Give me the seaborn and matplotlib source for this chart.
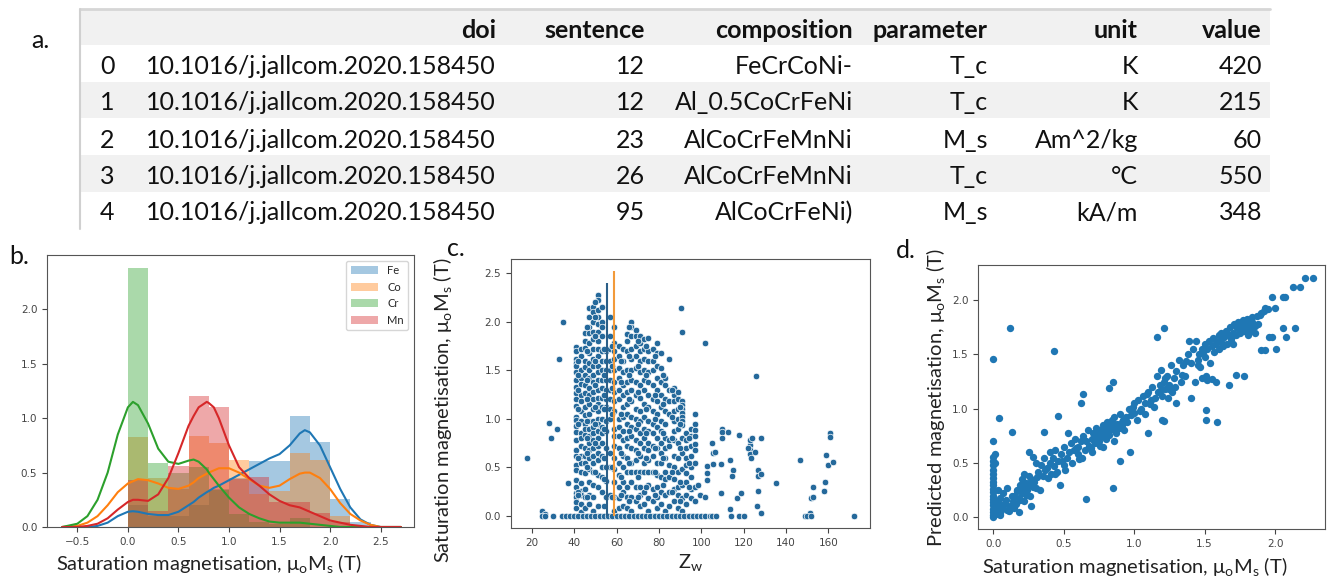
import numpy as np
import seaborn as sns
import matplotlib.pyplot as plt
from matplotlib.patches import Rectangle

# ---------------- panel a: extracted-data table ----------------
table_cols = ["doi", "sentence", "composition", "parameter", "unit", "value"]
table_index = ["0", "1", "2", "3", "4"]
doi = ["10.1016/j.jallcom.2020.158450"] * 5
sentence = ["12", "12", "23", "26", "95"]
composition = ["FeCrCoNi-", "Al_0.5CoCrFeNi", "AlCoCrFeMnNi", "AlCoCrFeMnNi", "AlCoCrFeNi)"]
parameter = ["T_c", "T_c", "M_s", "T_c", "M_s"]
unit = ["K", "K", "Am^2/kg", "°C", "kA/m"]
value = ["420", "215", "60", "550", "348"]

# ---------------- panel b: histogram + kde per element ----------------
elements = ["Fe", "Co", "Cr", "Mn"]
bin_edges = [0.0, 0.2, 0.4, 0.6, 0.8, 1.0, 1.2, 1.4, 1.6, 1.8, 2.0, 2.2, 2.4]
hist_fe = [0.20, 0.10, 0.10, 0.20, 0.35, 0.45, 0.61, 0.61, 1.02, 0.78, 0.26, 0.05]
hist_co = [0.83, 0.45, 0.35, 0.84, 0.77, 0.62, 0.30, 0.33, 0.68, 0.62, 0.10, 0.0]
hist_cr = [2.38, 0.59, 0.50, 0.55, 0.34, 0.12, 0.05, 0.03, 0.08, 0.0, 0.0, 0.0]
hist_mn = [0.43, 0.15, 0.56, 1.20, 1.10, 0.44, 0.46, 0.23, 0.23, 0.13, 0.05, 0.0]

kde_x = [-0.65, -0.5, -0.4, -0.3, -0.2, -0.1, 0.0, 0.05, 0.1, 0.2, 0.3, 0.4, 0.5, 0.6,
         0.65, 0.7, 0.78, 0.8, 0.85, 0.9, 1.0, 1.1, 1.2, 1.3, 1.4, 1.5, 1.6, 1.7, 1.75,
         1.8, 1.9, 2.0, 2.1, 2.2, 2.3, 2.4, 2.5, 2.6, 2.7]
kde_fe = [0.0, 0.0, 0.0, 0.01, 0.04, 0.10, 0.14, 0.145, 0.14, 0.12, 0.11, 0.11, 0.14, 0.20,
          0.23, 0.27, 0.32, 0.33, 0.36, 0.38, 0.43, 0.48, 0.53, 0.58, 0.63, 0.67, 0.75, 0.86, 0.89,
          0.87, 0.75, 0.55, 0.35, 0.18, 0.07, 0.02, 0.0, 0.0, 0.0]
kde_co = [0.0, 0.01, 0.04, 0.10, 0.20, 0.32, 0.40, 0.42, 0.44, 0.43, 0.40, 0.36, 0.35, 0.38,
          0.41, 0.45, 0.49, 0.50, 0.52, 0.54, 0.54, 0.50, 0.44, 0.38, 0.36, 0.38, 0.44, 0.49, 0.50,
          0.50, 0.45, 0.35, 0.22, 0.12, 0.06, 0.02, 0.0, 0.0, 0.0]
kde_cr = [0.0, 0.03, 0.10, 0.25, 0.50, 0.85, 1.10, 1.15, 1.12, 0.95, 0.72, 0.60, 0.58, 0.61,
          0.62, 0.60, 0.53, 0.50, 0.44, 0.38, 0.27, 0.18, 0.12, 0.08, 0.05, 0.04, 0.04, 0.04, 0.035,
          0.03, 0.02, 0.01, 0.0, 0.0, 0.0, 0.0, 0.0, 0.0, 0.0]
kde_mn = [0.0, 0.0, 0.01, 0.03, 0.08, 0.16, 0.23, 0.25, 0.25, 0.24, 0.30, 0.45, 0.68, 0.93,
          1.02, 1.10, 1.15, 1.14, 1.10, 1.00, 0.75, 0.55, 0.45, 0.38, 0.30, 0.24, 0.20, 0.18, 0.16,
          0.14, 0.10, 0.06, 0.04, 0.02, 0.01, 0.0, 0.0, 0.0, 0.0]

# ---------------- panel c: Ms vs Z_w ----------------
zw_columns = [41, 43, 45, 47, 49, 51, 53, 55, 57, 59, 61, 63, 65, 67, 69, 71, 73, 75,
              77, 79, 81, 83, 85, 87, 89, 91, 93, 95, 97,
              42, 46, 50, 54, 58, 62, 66, 70, 74, 78, 82, 86, 90, 94]
ms_columns = [
    [1.74, 1.70, 1.62, 1.58, 1.55, 1.48, 1.40, 1.33, 1.27, 1.20, 1.13, 1.02, 0.99, 0.93, 0.86, 0.78,
     0.68, 0.62, 0.52, 0.47, 0.37, 0.30, 0.24, 0.20, 0.14, 0.08, 0.0],
    [1.72, 1.65, 1.50, 1.42, 1.36, 1.25, 1.18, 1.08, 0.98, 0.85, 0.80, 0.72, 0.62, 0.55, 0.45, 0.34,
     0.26, 0.22, 0.12, 0.04, 0.0],
    [1.88, 1.80, 1.73, 1.60, 1.53, 1.45, 1.35, 1.27, 1.12, 1.04, 0.95, 0.90, 0.83, 0.70, 0.62, 0.55,
     0.44, 0.28, 0.20, 0.08, 0.0],
    [2.14, 2.05, 1.95, 1.88, 1.78, 1.68, 1.58, 1.50, 1.42, 1.32, 1.25, 1.15, 1.05, 0.98, 0.90, 0.82,
     0.75, 0.68, 0.60, 0.48, 0.35, 0.22, 0.12, 0.0],
    [2.15, 2.10, 2.00, 1.90, 1.82, 1.72, 1.62, 1.55, 1.45, 1.38, 1.28, 1.20, 1.10, 0.98, 0.92, 0.85,
     0.78, 0.70, 0.62, 0.55, 0.45, 0.32, 0.20, 0.05, 0.0],
    [2.28, 2.22, 2.12, 2.05, 1.98, 1.90, 1.80, 1.72, 1.65, 1.55, 1.48, 1.40, 1.30, 1.22, 1.15, 1.08,
     1.00, 0.95, 0.88, 0.80, 0.72, 0.65, 0.58, 0.42, 0.30, 0.10, 0.0],
    [2.15, 2.00, 1.95, 1.85, 1.70, 1.60, 1.50, 1.40, 1.32, 1.22, 1.12, 1.00, 0.92, 0.85, 0.75, 0.62,
     0.50, 0.40, 0.25, 0.0],
    [1.70, 1.60, 1.50, 1.40, 1.30, 1.20, 1.12, 0.98, 0.88, 0.70, 0.50, 0.36, 0.20, 0.0],
    [2.05, 1.85, 1.72, 1.60, 1.50, 1.40, 1.30, 1.20, 1.10, 1.00, 0.65, 0.50, 0.22, 0.0],
    [1.95, 1.78, 1.70, 1.62, 1.50, 1.38, 1.28, 1.18, 1.08, 0.90, 0.82, 0.72, 0.60, 0.48, 0.35, 0.20,
     0.05, 0.0],
    [1.75, 1.65, 1.52, 1.42, 1.30, 1.20, 1.00, 0.92, 0.82, 0.70, 0.55, 0.42, 0.30, 0.18, 0.08, 0.0],
    [1.72, 1.60, 1.48, 1.35, 1.25, 1.12, 1.02, 0.88, 0.78, 0.62, 0.50, 0.35, 0.25, 0.10, 0.0],
    [1.87, 1.80, 1.70, 1.50, 1.38, 1.28, 1.15, 1.05, 0.95, 0.80, 0.72, 0.60, 0.45, 0.30, 0.20, 0.08,
     0.0],
    [2.00, 1.95, 1.85, 1.72, 1.62, 1.50, 1.40, 1.30, 1.18, 1.02, 0.92, 0.82, 0.70, 0.55, 0.45, 0.35,
     0.20, 0.05, 0.0],
    [1.92, 1.85, 1.75, 1.65, 1.52, 1.38, 1.25, 1.10, 1.00, 0.90, 0.78, 0.68, 0.58, 0.45, 0.30, 0.15,
     0.0],
    [1.85, 1.78, 1.70, 1.60, 1.48, 1.35, 1.22, 1.08, 0.98, 0.85, 0.75, 0.62, 0.45, 0.30, 0.22, 0.10,
     0.0],
    [1.82, 1.72, 1.62, 1.50, 1.40, 1.30, 1.15, 1.02, 0.90, 0.80, 0.70, 0.55, 0.45, 0.25, 0.12, 0.0],
    [1.83, 1.70, 1.60, 1.48, 1.38, 1.25, 1.12, 0.98, 0.88, 0.75, 0.68, 0.58, 0.45, 0.32, 0.18, 0.05,
     0.0],
    [1.72, 1.60, 1.50, 1.35, 1.20, 1.08, 0.95, 0.85, 0.72, 0.62, 0.45, 0.28, 0.15, 0.0],
    [1.78, 1.68, 1.55, 1.42, 1.30, 1.18, 1.05, 0.92, 0.80, 0.70, 0.55, 0.42, 0.30, 0.20, 0.08, 0.0],
    [1.68, 1.52, 1.38, 1.25, 1.12, 0.98, 0.88, 0.75, 0.65, 0.55, 0.40, 0.25, 0.12, 0.0],
    [1.42, 1.35, 1.20, 1.08, 0.95, 0.80, 0.70, 0.60, 0.45, 0.38, 0.22, 0.05, 0.0],
    [1.62, 1.30, 1.18, 1.05, 0.78, 0.72, 0.52, 0.40, 0.25, 0.10, 0.0],
    [1.32, 1.25, 1.18, 1.08, 0.98, 0.88, 0.78, 0.62, 0.50, 0.38, 0.28, 0.15, 0.0],
    [1.28, 1.20, 1.10, 1.00, 0.90, 0.75, 0.60, 0.45, 0.30, 0.22, 0.08, 0.0],
    [1.18, 1.14, 1.10, 1.06, 1.02, 0.98, 0.94, 0.80, 0.65, 0.48, 0.32, 0.18, 0.05, 0.0],
    [0.85, 0.78, 0.70, 0.60, 0.52, 0.44, 0.35, 0.22, 0.12, 0.0],
    [0.90, 0.82, 0.72, 0.62, 0.50, 0.40, 0.28, 0.18, 0.0],
    [1.05, 0.95, 0.89, 0.82, 0.74, 0.68, 0.55, 0.30, 0.15, 0.0],
    [1.60, 1.45, 1.30, 1.10, 0.95, 0.60, 0.25, 0.22],
    [1.95, 1.70, 1.40, 1.20, 0.98, 0.80, 0.65, 0.50, 0.20],
    [2.20, 2.05, 1.85, 1.60, 1.35, 1.12, 0.95, 0.75, 0.45],
    [1.72, 1.45, 1.25, 1.10, 0.90, 0.60, 0.38, 0.10],
    [1.75, 1.55, 1.32, 1.05, 0.50, 0.20],
    [1.60, 1.38, 1.05, 0.65, 0.40, 0.22],
    [1.95, 1.65, 1.45, 1.20, 0.88, 0.55, 0.15],
    [1.80, 1.55, 1.28, 0.95, 0.65, 0.40, 0.20],
    [1.75, 1.45, 1.10, 0.85, 0.60, 0.30],
    [1.65, 1.25, 1.00, 0.70, 0.45, 0.22],
    [1.45, 1.15, 0.85, 0.60, 0.32],
    [1.30, 1.02, 0.80, 0.45, 0.25],
    [1.12, 0.95, 0.70, 0.35, 0.15],
    [0.80, 0.55, 0.30],
]
zw_extra = [17.6, 28, 29, 32, 33, 34.5, 37, 25, 26, 90.3, 90.8, 102, 125.8,
            109.7, 109.7, 109.7, 112.8, 117.9, 113.8, 115, 114.6, 109.2, 109.5, 113.6, 117, 119,
            123, 123, 123, 123, 123.5, 124, 122, 125.6, 128.3, 126.9, 126.9, 128.3, 126.9, 126.3,
            128.2, 135.1, 146.7, 151.2, 152, 152.8, 153, 158.1, 158.6, 159.1, 159.8, 162, 161, 161,
            102.6, 102.6, 102.9, 99.4, 98.6, 101.8, 105.3, 105.5, 105.5, 106.5]
ms_extra = [0.60, 0.96, 0.80, 0.90, 1.62, 2.00, 0.34, 0.05, 0.02, 2.14, 1.89, 1.78, 1.44,
            0.90, 0.86, 0.80, 0.87, 0.83, 0.58, 0.47, 0.41, 0.54, 0.24, 0.075, 0.19, 0.24,
            0.73, 0.78, 0.68, 0.64, 0.60, 0.80, 0.70, 0.66, 0.80, 0.47, 0.41, 0.43, 0.26, 0.10,
            0.03, 0.34, 0.58, 0.03, 0.18, 0.20, 0.30, 0.26, 0.35, 0.63, 0.52, 0.56, 0.85, 0.81,
            0.51, 0.44, 0.37, 0.22, 0.32, 0.20, 0.75, 0.65, 0.54, 0.66]
zw_zero = [25, 26, 30, 34, 36, 38, 40, 42, 44, 46, 48, 50, 52, 54, 56, 58, 60, 62, 64, 66, 68,
           70, 72, 74, 76, 78, 80, 82, 84, 86, 88, 90, 92, 94, 96, 98, 100, 102, 104, 105, 107,
           114, 118, 120, 149, 150, 152, 172]
vline_zw = [55.5, 58.7]
vline_top = [2.40, 2.52]

# ---------------- panel d: predicted vs measured Ms ----------------
ms_true = [0, 0, 0, 0, 0, 0, 0, 0, 0, 0, 0, 0, 0, 0, 0, 0, 0, 0, 0.01, 0.01, 0.01, 0.02, 0.02,
           0.03, 0.03, 0.04, 0.05, 0.05, 0.06, 0.07, 0.08, 0.10, 0.095,
           0.12, 0.14, 0.15, 0.16, 0.17, 0.18, 0.19, 0.20, 0.20, 0.21, 0.22, 0.22, 0.23, 0.24,
           0.25, 0.25, 0.26, 0.27, 0.28, 0.29, 0.30, 0.33, 0.27, 0.18, 0.25, 0.28, 0.30,
           0.32, 0.34, 0.35, 0.36, 0.38, 0.40, 0.40, 0.41, 0.42, 0.43, 0.44, 0.45, 0.46, 0.47,
           0.48, 0.50, 0.50, 0.52, 0.53, 0.54, 0.55, 0.56, 0.57, 0.58, 0.60, 0.60, 0.62, 0.63,
           0.64, 0.65, 0.66, 0.67, 0.68, 0.70, 0.70, 0.71, 0.72, 0.73, 0.74, 0.75, 0.76, 0.77,
           0.78, 0.78, 0.79, 0.80, 0.80, 0.81, 0.82, 0.83, 0.84, 0.85, 0.86, 0.86, 0.87, 0.88,
           0.89, 0.90, 0.90, 0.91, 0.92, 0.93, 0.94, 0.95, 0.96, 0.97, 0.98, 1.00, 1.00, 1.02,
           1.03, 1.05, 1.06, 1.08, 1.08, 1.10, 1.10, 1.12, 1.13, 1.14, 1.15, 1.16, 1.17, 1.18,
           1.19, 1.20, 1.21, 1.22, 1.23, 1.24, 1.25, 1.26, 1.27, 1.28, 1.29, 1.30, 1.30, 1.32,
           1.33, 1.35, 1.36, 1.38, 1.39, 1.40, 1.40, 1.42, 1.43, 1.44, 1.45, 1.46, 1.47, 1.48,
           1.50, 1.50, 1.51, 1.52, 1.53, 1.54, 1.55, 1.56, 1.57, 1.58, 1.58, 1.60, 1.60, 1.61,
           1.62, 1.63, 1.64, 1.65, 1.66, 1.67, 1.68, 1.69, 1.70, 1.70, 1.71, 1.72, 1.73, 1.74,
           1.75, 1.76, 1.77, 1.78, 1.79, 1.80, 1.80, 1.81, 1.82, 1.83, 1.84, 1.85, 1.86, 1.87,
           1.88, 1.90, 1.92, 1.95, 1.96, 1.78, 1.48, 1.52, 1.55,
           0.00, 0.12, 0.43, 0.04, 0.13, 0.00, 0.36, 0.46, 0.62, 0.64, 0.82, 0.85, 0.85, 0.66,
           1.16, 1.21, 1.51, 1.51, 1.59, 1.67, 1.72, 2.06, 2.14, 2.08, 2.01, 1.90, 1.93, 1.98,
           1.20, 1.21, 2.21, 2.27, 2.13, 2.18, 1.98, 2.06, 2.07, 1.93, 2.00,
           0.02, 0.03, 0.05, 0.07, 0.09, 0.11, 0.13, 0.15, 0.17, 0.19, 0.21, 0.23, 0.26, 0.31,
           0.37, 0.39, 0.44, 0.49, 0.51, 0.59, 0.61, 0.69, 0.73, 0.76, 0.79, 0.83, 0.87, 0.91,
           0.99, 1.04, 1.09, 1.11, 1.18, 1.22, 1.25, 1.34, 1.37, 1.45, 1.49, 1.57, 1.63, 1.66,
           1.69, 1.72, 1.75, 1.77, 1.79, 1.82, 1.84, 1.86, 1.89]
ms_pred = [0, 0.02, 0.05, 0.08, 0.11, 0.14, 0.17, 0.20, 0.23, 0.26, 0.30, 0.33, 0.36, 0.40,
           0.44, 0.48, 0.52, 0.56, 0.58, 0.50, 0.10, 0.03, 0.15, 0.06, 0.25, 0.12, 0.18, 0.04,
           0.08, 0.22, 0.13, 0.07, 0.27,
           0.10, 0.15, 0.20, 0.12, 0.25, 0.18, 0.30, 0.22, 0.35, 0.28, 0.40, 0.15, 0.32, 0.25,
           0.38, 0.30, 0.20, 0.35, 0.28, 0.33, 0.27, 0.25, 0.10, 0.05, 0.60, 0.56, 0.50,
           0.42, 0.48, 0.38, 0.55, 0.45, 0.50, 0.60, 0.40, 0.55, 0.47, 0.62, 0.42, 0.52, 0.30,
           0.58, 0.48, 0.65, 0.55, 0.78, 0.60, 0.68, 0.50, 0.62, 0.72, 0.58, 0.65, 0.70, 0.55,
           0.75, 0.62, 0.70, 0.80, 0.66, 0.72, 0.60, 0.78, 0.68, 0.82, 0.74, 0.70, 0.80, 0.75,
           0.85, 0.65, 0.78, 0.72, 0.82, 0.88, 0.76, 0.80, 0.90, 0.84, 0.70, 0.92, 0.78, 0.86,
           0.82, 0.95, 0.52, 0.85, 0.90, 0.80, 0.92, 0.88, 1.00, 0.60, 0.94, 0.96, 1.05, 0.90,
           1.08, 1.00, 1.12, 0.95, 1.05, 1.15, 0.78, 1.08, 1.20, 1.02, 1.10, 1.30, 1.15, 1.22,
           1.36, 1.12, 1.25, 1.18, 1.30, 1.10, 1.22, 1.40, 1.15, 1.28, 1.20, 1.35, 1.05, 1.45,
           1.25, 1.40, 1.30, 1.50, 1.62, 1.42, 1.10, 1.55, 1.25, 1.62, 1.45, 1.50, 1.38, 1.55,
           1.60, 1.48, 1.30, 1.55, 1.62, 1.42, 1.58, 1.65, 1.52, 1.60, 1.25, 1.68, 1.55, 1.62,
           1.70, 1.58, 1.66, 1.72, 1.60, 1.68, 1.75, 1.65, 1.70, 1.60, 1.78, 1.68, 1.74, 1.80,
           1.70, 1.76, 1.82, 1.72, 1.78, 1.75, 1.83, 1.68, 1.78, 1.72, 1.80, 1.76, 1.70, 1.85,
           1.78, 1.88, 1.90, 1.92, 1.66, 1.30, 1.28, 1.26, 1.27,
           1.46, 1.74, 1.53, 0.91, 0.79, 0.70, 0.79, 0.93, 1.05, 1.14, 1.19, 1.25, 0.27, 0.17,
           1.66, 1.74, 0.99, 0.90, 0.88, 1.22, 1.31, 1.74, 1.74, 1.66, 1.55, 1.54, 1.54, 1.66,
           0.90, 0.89, 2.20, 2.20, 2.12, 2.12, 2.03, 2.03, 2.03, 1.93, 1.93,
           0.09, 0.14, 0.02, 0.11, 0.16, 0.06, 0.20, 0.09, 0.24, 0.16, 0.26, 0.21, 0.31, 0.37,
           0.44, 0.36, 0.40, 0.52, 0.44, 0.64, 0.54, 0.64, 0.77, 0.66, 0.74, 0.86, 0.80, 0.88,
           1.02, 0.98, 1.14, 1.04, 1.16, 1.28, 1.18, 1.31, 1.44, 1.40, 1.52, 1.64, 1.60, 1.70,
           1.64, 1.77, 1.73, 1.81, 1.74, 1.79, 1.84, 1.76, 1.86]

# ---------------- styling ----------------
sns.set_style("ticks")
plt.rcParams["font.family"] = ["Lato", "DejaVu Sans"]
plt.rcParams["axes.edgecolor"] = "#555555"
plt.rcParams["xtick.color"] = "#444444"
plt.rcParams["ytick.color"] = "#444444"

W, H = 1331, 579
fig = plt.figure(figsize=(W / 100, H / 100), dpi=100)


def box(left, top, right, bottom):
    return [left / W, 1 - bottom / H, (right - left) / W, (bottom - top) / H]


label_kw = dict(family=["Lato", "DejaVu Sans"], fontsize=14.5, color="#222222")
ms_label = r"Saturation magnetisation, μ$_\mathregular{o}$M$_\mathregular{s}$ (T)"
pred_label = r"Predicted magnetisation, μ$_\mathregular{o}$M$_\mathregular{s}$ (T)"


def style_ticks(ax):
    ax.tick_params(axis="both", labelsize=7.5, length=3.5, width=0.8)
    for lab in ax.get_xticklabels() + ax.get_yticklabels():
        lab.set_family("DejaVu Sans")


# ---- table ----
ax_t = fig.add_axes([0, 1 - 232 / H, 1, 232 / H])
ax_t.set_xlim(0, W)
ax_t.set_ylim(232, 0)
ax_t.axis("off")
band_x0, band_x1 = 80, 1270
row_tops = [10, 45, 82, 118, 155, 192, 229]
for i in (0, 2, 4):
    ax_t.add_patch(Rectangle((band_x0, row_tops[i]), band_x1 - band_x0,
                             row_tops[i + 1] - row_tops[i], color="#f1f1f1", lw=0))
ax_t.plot([band_x0, band_x1], [9, 9], color="#d6d6d6", lw=2)
ax_t.plot([band_x0, band_x0], [9, 229], color="#d0d0d0", lw=1.5)

col_right = [496, 645, 853, 988, 1138, 1262]
text_y = [30, 67, 103, 140, 177, 213]
tsize = 18
for cx, name in zip(col_right, table_cols):
    ax_t.text(cx, text_y[0], name, ha="right", va="center", fontsize=tsize,
              fontweight="bold", color="#111111")
columns = [doi, sentence, composition, parameter, unit, value]
for r, idx in enumerate(table_index):
    ax_t.text(100, text_y[r + 1], idx, ha="left", va="center", fontsize=tsize, color="#111111")
    for cx, col in zip(col_right, columns):
        ax_t.text(cx, text_y[r + 1], col[r], ha="right", va="center", fontsize=tsize,
                  color="#111111")

# ---- panel b ----
ax_b = fig.add_axes(box(47, 255, 414, 527))
palette = sns.color_palette("tab10", 4)
centers = [(bin_edges[i] + bin_edges[i + 1]) / 2 for i in range(len(bin_edges) - 1)]
for name, hist, kde, col in zip(elements, [hist_fe, hist_co, hist_cr, hist_mn],
                                [kde_fe, kde_co, kde_cr, kde_mn], palette):
    sns.histplot(x=centers, weights=hist, bins=bin_edges, stat="count", color=col,
                 alpha=0.4, linewidth=0, label=name, ax=ax_b)
    sns.lineplot(x=kde_x, y=kde, color=col, lw=1.5, ax=ax_b)
ax_b.set_xlim(-0.8, 2.83)
ax_b.set_ylim(0, 2.5)
ax_b.set_xticks([-0.5, 0.0, 0.5, 1.0, 1.5, 2.0, 2.5])
ax_b.set_yticks([0.0, 0.5, 1.0, 1.5, 2.0])
ax_b.set_ylabel("")
ax_b.set_xlabel(ms_label, **label_kw)
ax_b.xaxis.set_label_coords(0.44, -0.095)
ax_b.legend(loc="upper right", fontsize=8, handlelength=2.5)
style_ticks(ax_b)

# ---- panel c ----
ax_c = fig.add_axes(box(510.7, 259.3, 870, 528.3))
zw_all = [x for x, ys in zip(zw_columns, ms_columns) for _ in ys] + zw_extra + zw_zero
ms_all = [y for ys in ms_columns for y in ys] + ms_extra + [0.0] * len(zw_zero)
sns.scatterplot(x=zw_all, y=ms_all, color="#25699b", s=22, linewidth=0.5,
                edgecolor="white", ax=ax_c)
ax_c.vlines(vline_zw[0], 0, vline_top[0], color="#2b5f88", lw=1.5)
ax_c.vlines(vline_zw[1], 0, vline_top[1], color="#f29a3a", lw=1.5)
ax_c.set_xlim(10, 179.7)
ax_c.set_ylim(-0.127, 2.644)
ax_c.set_xticks(range(20, 161, 20))
ax_c.set_yticks([0.0, 0.5, 1.0, 1.5, 2.0, 2.5])
ax_c.set_xlabel(r"Z$_\mathregular{w}$", **label_kw)
ax_c.xaxis.set_label_coords(0.5, -0.09)
ax_c.set_ylabel(ms_label, **label_kw)
ax_c.yaxis.set_label_coords(-0.155, 0.44)
style_ticks(ax_c)

# ---- panel d ----
ax_d = fig.add_axes(box(978.3, 265, 1325, 529.3))
sns.scatterplot(x=ms_true, y=ms_pred, color="#1f77b4", s=28, linewidth=0, ax=ax_d)
ax_d.set_xlim(-0.107, 2.355)
ax_d.set_ylim(-0.11, 2.323)
ax_d.set_xticks([0.0, 0.5, 1.0, 1.5, 2.0])
ax_d.set_yticks([0.0, 0.5, 1.0, 1.5, 2.0])
ax_d.set_xlabel(ms_label, **label_kw)
ax_d.xaxis.set_label_coords(0.45, -0.10)
ax_d.set_ylabel(pred_label, **label_kw)
ax_d.yaxis.set_label_coords(-0.087, 0.5)
style_ticks(ax_d)

# ---- panel letters ----
for txt, x, y in [("a.", 40, 40), ("b.", 19, 256), ("c.", 456, 249), ("d.", 906, 251)]:
    fig.text(x / W, 1 - y / H, txt, ha="center", va="center", fontsize=18, color="#111111")

fig.savefig("out.png", dpi=100)
